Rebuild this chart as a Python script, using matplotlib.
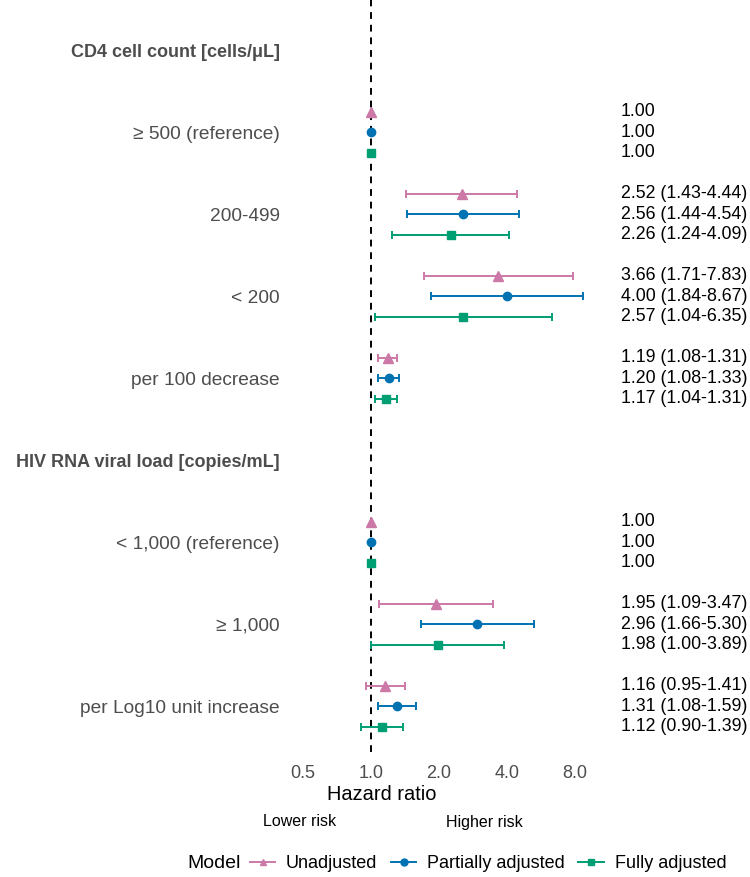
import numpy as np
import matplotlib
matplotlib.use("Agg")
import matplotlib.pyplot as plt
import matplotlib.transforms as mtransforms
from matplotlib.lines import Line2D

plt.rcParams["font.family"] = ["Liberation Sans", "DejaVu Sans"]

# ---- data ----
headers = ["CD4 cell count [cells/μL]", "HIV RNA viral load [copies/mL]"]
rows_cd4 = ["≥ 500 (reference)", "200-499", "< 200", "per 100 decrease"]
rows_hiv = ["< 1,000 (reference)", "≥ 1,000", "per Log10 unit increase"]

models = ["Unadjusted", "Partially adjusted", "Fully adjusted"]
colors = ["#CC79A7", "#0072B2", "#009E73"]
markers = ["^", "o", "s"]

# hazard ratios (rows in order cd4 then hiv); nan = reference, no CI
hr_unadj = [1.00, 2.52, 3.66, 1.19, 1.00, 1.95, 1.16]
lo_unadj = [np.nan, 1.43, 1.71, 1.08, np.nan, 1.09, 0.95]
hi_unadj = [np.nan, 4.44, 7.83, 1.31, np.nan, 3.47, 1.41]

hr_part = [1.00, 2.56, 4.00, 1.20, 1.00, 2.96, 1.31]
lo_part = [np.nan, 1.44, 1.84, 1.08, np.nan, 1.66, 1.08]
hi_part = [np.nan, 4.54, 8.67, 1.33, np.nan, 5.30, 1.59]

hr_full = [1.00, 2.26, 2.57, 1.17, 1.00, 1.98, 1.12]
lo_full = [np.nan, 1.24, 1.04, 1.04, np.nan, 1.00, 0.90]
hi_full = [np.nan, 4.09, 6.35, 1.31, np.nan, 3.89, 1.39]

x_ticks = [0.5, 1.0, 2.0, 4.0, 8.0]

series = [(hr_unadj, lo_unadj, hi_unadj),
          (hr_part, lo_part, hi_part),
          (hr_full, lo_full, hi_full)]

# ---- layout: one slot per header / row ----
ylabels, yslots, bold = [], [], []
row_slots = []
slot = 0
for head, rows in zip(headers, [rows_cd4, rows_hiv]):
    ylabels.append(head); yslots.append(slot); bold.append(True)
    slot += 1
    for r in rows:
        ylabels.append(r); yslots.append(slot); bold.append(False)
        row_slots.append(slot)
        slot += 1
row_slots = np.array(row_slots, dtype=float)
offsets = [-0.25, 0.0, 0.25]
msizes = {"^": 7.5, "o": 6.0, "s": 5.6}

W, H = 750, 877
fig = plt.figure(figsize=(W / 100, H / 100), dpi=100)
ax_l, ax_r, ax_t, ax_b = 288, 600, 0, 752
ax = fig.add_axes([ax_l / W, 1 - ax_b / H, (ax_r - ax_l) / W, (ax_b - ax_t) / H])

ax.axvline(1.0, color="black", ls=(0, (3.5, 3)), lw=1.4, zorder=1)

trans = mtransforms.blended_transform_factory(fig.transFigure, ax.transData)
for (hr, lo, hi), col, mk, off in zip(series, colors, markers, offsets):
    hr = np.array(hr); lo = np.array(lo); hi = np.array(hi)
    y = row_slots + off
    ok = ~np.isnan(lo)
    ax.errorbar(hr[ok], y[ok], xerr=[hr[ok] - lo[ok], hi[ok] - hr[ok]],
                fmt="none", ecolor=col, elinewidth=1.4, capsize=3.0,
                capthick=1.4, zorder=2)
    ax.plot(hr, y, ls="none", marker=mk, color=col, ms=msizes[mk], zorder=3)
    for h, l, u, yy in zip(hr, lo, hi, y):
        txt = "%.2f" % h if np.isnan(l) else "%.2f (%.2f-%.2f)" % (h, l, u)
        ax.text(621 / W, yy, txt, transform=trans, ha="left", va="center",
                fontsize=12.8, color="black")

ax.set_xscale("log", base=2)
ax.set_xlim(2 ** -1.22, 2 ** 3.37)
ax.set_ylim(8.56, -0.61)
ax.set_xticks(x_ticks)
ax.set_xticklabels(["%.1f" % v for v in x_ticks])
ax.minorticks_off()
ax.set_yticks(yslots)
ax.set_yticklabels(ylabels)
ax.tick_params(axis="x", length=0, pad=9, labelsize=13, labelcolor="#4D4D4D")
ax.tick_params(axis="y", length=0, pad=6, labelsize=13.75, labelcolor="#4D4D4D")
for lab, b in zip(ax.get_yticklabels(), bold):
    if b:
        lab.set_fontweight("bold")
        lab.set_fontsize(13.0)
for s in ax.spines.values():
    s.set_visible(False)
ax.set_xlabel("Hazard ratio", fontsize=14.4, labelpad=2)
ax.xaxis.set_label_coords((382 - ax_l) / (ax_r - ax_l), -(795 - ax_b) / (ax_b - ax_t),
                          transform=ax.transAxes)
ax.xaxis.label.set_va("center")

fig.text(300 / W, 1 - 822 / H, "Lower risk", ha="center", va="center", fontsize=11.5)
fig.text(484 / W, 1 - 822 / H, "Higher risk", ha="center", va="center", fontsize=11.5)

# legend
fig.text(187 / W, 1 - 864 / H, "Model", ha="left", va="center", fontsize=14)
handles = [Line2D([], [], color=c, marker=m, lw=1.4, ms=5) for c, m in zip(colors, markers)]
fig.legend(handles, models, loc="center left", bbox_to_anchor=(250 / W, 1 - 864 / H),
           ncol=3, frameon=False, fontsize=13, handlelength=1.4,
           handletextpad=0.6, columnspacing=0.75, borderaxespad=0, borderpad=0)

fig.savefig("out.png", dpi=100)
